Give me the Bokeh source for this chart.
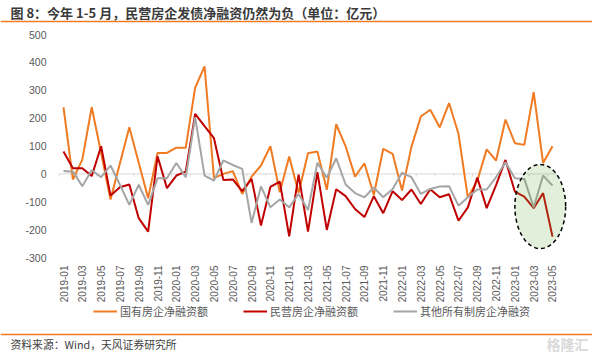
import numpy as np
from bokeh.plotting import figure
from bokeh.models import (Range1d, FixedTicker, Legend, LegendItem, Label,
                          LinearAxis, ColumnDataSource)
from bokeh.embed import file_html
from bokeh.resources import INLINE

# ---------------- data ----------------
months = [f"{y}-{m:02d}" for y in range(2019, 2024) for m in range(1, 13)][:53]

soe_net = [239, -20, 51, 239, 75, -92, 38, 167, 40, -87, 75, 75, 94, 94,
           309, 386, -15, 0, 10, -72, -10, 30, 99, -66, 62, -68, 74, 80,
           -57, 178, 99, -10, 38, -76, 90, 72, -60, 97, 206, 230, 167, 254,
           144, -85, -25, 88, 48, 195, 110, 104, 293, 39, 99]

private_net = [80, 20, 20, -8, 99, -78, -48, -38, -159, -207, 63, -51, -6, 8,
               215, 171, 128, -22, -20, -62, -18, -185, -47, -28, -224, -3,
               -207, 6, -201, -55, -80, -126, -155, -80, -141, -62, -94, -56,
               -108, -55, -84, -73, -168, -120, -13, -123, -40, 50, -64, -82,
               -123, -69, -225]

other_net = [10, 8, -44, 14, -12, 30, -39, -111, -39, -111, -16, -16, 39, -12,
             203, -6, -24, 48, 32, 18, -176, -45, -120, -92, -120, -72, -130,
             40, -14, 56, -38, -69, -84, -49, -84, -54, 4, -12, -72, -54, -45,
             -44, -114, -84, -56, -56, -12, 42, -16, -18, -120, -6, -42]

series_names = ["国有房企净融资额", "民营房企净融资额", "其他所有制房企净融资"]
y_ticks = [-300, -200, -100, 0, 100, 200, 300, 400, 500]

title_text = "图 8：今年 1-5 月，民营房企发债净融资仍然为负（单位：亿元）"
source_text = "资料来源：Wind，天风证券研究所"
watermark_text = "格隆汇"

# highlight ellipse (2023-01 .. 2023-05)
ell_x, ell_y, ell_w, ell_h = 50.7, -117, 5.4, 302

# ---------------- layout (canvas pixels) ----------------
W, H = 592, 354
PLOT_L, PLOT_R = 58.3, 556.7      # x pixel of category edges -0.5 and n-0.5
PLOT_T, PLOT_B = 34, 257          # y pixel of 500 and -300
n = len(months)
PXU = (PLOT_R - PLOT_L) / n
PYU = (PLOT_B - PLOT_T) / (max(y_ticks) - min(y_ticks))


def x_at(px):
    return -0.5 + (px - PLOT_L) / PXU


def y_at(py):
    return max(y_ticks) - (py - PLOT_T) / PYU


ORANGE = "#f07b23"
RED = "#c00000"
GRAY = "#a5a5a5"
CJK = "Noto Sans CJK SC"

src = ColumnDataSource(dict(x=list(range(n)), soe=soe_net, pri=private_net,
                            oth=other_net))

p = figure(width=W, height=H, title=None, output_backend="svg",
           toolbar_location=None, x_axis_location=None, y_axis_location=None,
           x_range=Range1d(x_at(0), x_at(W)), y_range=Range1d(y_at(H), y_at(0)),
           min_border=0)
p.outline_line_color = None
p.xgrid.visible = False
p.ygrid.visible = False

# zero axis line + small ticks
p.segment(x0=[-0.5], y0=[0], x1=[n - 0.5], y1=[0], line_color="#d9d9d9",
          line_width=1, level="underlay")
tick_x = [i - 0.5 for i in range(0, n + 1, 2)]
p.segment(x0=tick_x, y0=[0] * len(tick_x), x1=tick_x, y1=[-10] * len(tick_x),
          line_color="#d9d9d9", line_width=1, level="underlay")

r1 = p.line("x", "soe", source=src, line_color=ORANGE, line_width=2)
r2 = p.line("x", "pri", source=src, line_color=RED, line_width=2)
r3 = p.line("x", "oth", source=src, line_color=GRAY, line_width=2)

p.ellipse(x=[ell_x], y=[ell_y], width=[ell_w], height=[ell_h],
          fill_color="#70ad47", fill_alpha=0.2, line_color="black",
          line_dash="4 3", line_width=1.5)

# x axis (labels below the -300 line)
xa = LinearAxis(fixed_location=min(y_ticks),
                ticker=FixedTicker(ticks=list(range(0, n, 2))),
                major_label_overrides={i: months[i] for i in range(0, n, 2)},
                major_label_orientation=np.pi / 2,
                axis_line_color=None, major_tick_line_color=None,
                minor_tick_line_color=None, major_tick_out=0, major_tick_in=0,
                major_label_standoff=8, major_label_text_font="Liberation Sans",
                major_label_text_font_size="10px",
                major_label_text_color="#595959")
p.add_layout(xa, "below")

# y axis
ya = LinearAxis(fixed_location=x_at(58),
                ticker=FixedTicker(ticks=y_ticks),
                major_label_overrides={v: str(v) for v in y_ticks},
                axis_line_color=None, major_tick_line_color=None,
                minor_tick_line_color=None, major_tick_out=0, major_tick_in=0,
                major_label_standoff=12, major_label_text_font="Liberation Sans",
                major_label_text_font_size="10.5px",
                major_label_text_color="#595959")
p.add_layout(ya, "left")

# orange rules under the title and above the source line
for rule_py in (20.8, 334.2):
    p.add_layout(LinearAxis(fixed_location=y_at(rule_py),
                            ticker=FixedTicker(ticks=[]),
                            axis_line_color=ORANGE, axis_line_width=1.6,
                            major_tick_line_color=None, minor_tick_line_color=None,
                            major_tick_out=0, major_tick_in=0,
                            major_label_text_font_size="0px"), "below")

legend = Legend(items=[LegendItem(label=series_names[0], renderers=[r1]),
                       LegendItem(label=series_names[1], renderers=[r2]),
                       LegendItem(label=series_names[2], renderers=[r3])],
                orientation="horizontal", location=(93, H - 319),
                border_line_color=None, background_fill_alpha=0,
                padding=0, margin=0, spacing=35, glyph_width=24,
                glyph_height=14, label_height=14, label_standoff=3,
                label_text_font=CJK, label_text_font_size="11px",
                label_text_color="#595959")
p.add_layout(legend)

p.add_layout(Label(x=10, y=H - 11.5, x_units="screen", y_units="screen",
                   text=title_text, text_font=CJK, text_font_size="13px",
                   text_font_style="bold", text_color="#3a3a3a",
                   text_baseline="middle", text_align="left"))
p.add_layout(Label(x=10, y=H - 343, x_units="screen", y_units="screen",
                   text=source_text, text_font=CJK, text_font_size="10.8px",
                   text_color="#404040", text_baseline="middle",
                   text_align="left"))
p.add_layout(Label(x=588, y=H - 343, x_units="screen", y_units="screen",
                   text=watermark_text, text_font=CJK, text_font_size="14px",
                   text_font_style="bold", text_color="#dadada",
                   text_baseline="middle", text_align="right"))

open("out.html", "w").write(file_html(p, INLINE))
